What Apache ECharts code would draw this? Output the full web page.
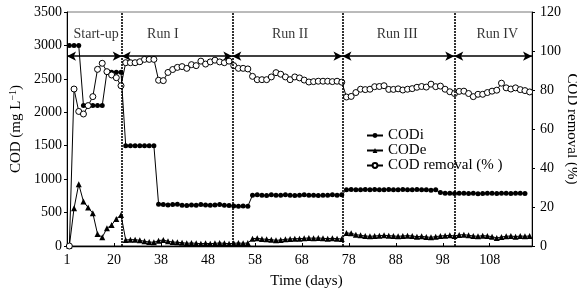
<!DOCTYPE html>
<html lang="en">
<head>
    <meta charset="UTF-8">
    <title>COD</title>
    <style>
        body { margin: 0; background: #fff; }
        #chart { width: 577px; height: 292px; }
    </style>
</head>
<body>
<div id="chart"></div>
<script src="https://cdn.jsdelivr.net/npm/echarts@6/dist/echarts.min.js"></script>
<script>
    // tick labels under the x axis (one every 10 samples)
    var dayTicks = [1, 20, 38, 48, 58, 68, 78, 88, 98, 108];

    // influent COD (mg/L), one value per sample
    var codIn = [
        3000, 3000, 3000, 2100, 2100, 2100, 2100, 2100, 2600, 2600, 2600, 2600,
        1500, 1500, 1500, 1500, 1500, 1500, 1500,
        625, 620, 615, 620, 625, 610, 605, 615, 610, 620, 615, 610, 615, 620, 610, 605, 600, 595, 600, 595,
        760, 765, 760, 755, 765, 760, 760, 765, 760, 755, 760, 765, 760, 760, 755, 760, 760, 765, 760, 765,
        840, 845, 840, 840, 845, 840, 845, 840, 840, 845, 840, 840, 845, 840, 840, 845, 840, 840, 835, 840,
        800, 790, 790, 785, 790, 790, 785, 790, 780, 785, 790, 790, 785, 790, 790, 785, 790, 790, 785
    ];

    // effluent COD (mg/L)
    var codOut = [
        0, 565, 925, 665, 575, 490, 180, 130, 265, 315, 405, 465,
        90, 95, 95, 85, 70, 60, 55,
        80, 90, 70, 60, 55, 50, 40, 45, 40, 35, 40, 35, 40, 45, 40, 35, 40, 45, 40, 45,
        110, 115, 105, 100, 95, 85, 90, 100, 105, 110, 110, 115, 120, 115, 120, 115, 110, 115, 110, 105,
        195, 190, 170, 160, 150, 145, 150, 155, 160, 155, 150, 145, 150, 155, 150, 140, 145, 135, 130, 140,
        150, 155, 160, 150, 165, 170, 160, 150, 145, 155, 150, 140, 120, 135, 145, 150, 140, 150, 145, 150
    ];

    // COD removal (%)
    var codRemoval = [
        0, 80.5, 69, 67.7, 72, 76.6, 90.6, 93.7, 89.4, 87.7, 86.3, 82.2,
        94, 94, 94, 94.5, 95.7, 95.7, 95.7,
        85, 84.8, 89, 90.5, 91.6, 92, 91.1, 93, 92.5, 94.8, 93.3, 94.4, 95.3, 94.4, 94, 94.8, 92.5, 91.1, 91.1, 90.8,
        87, 85.3, 85.3, 85.3, 86.7, 88.9, 88.1, 86.7, 85.3, 86.7, 86.2, 85.1, 84.1, 84.3, 84.5, 84.5, 84.5, 84.3, 84.5, 84,
        76.4, 76.7, 78.7, 80.4, 80.2, 80.4, 81.7, 81.8, 82.2, 80.3, 80.3, 80.6, 80, 80.4, 80.7, 81.4, 81.8, 81.5, 83, 81.7,
        82, 80.4, 79.1, 78.2, 79.3, 79.4, 78.2, 76.6, 77.8, 77.8, 78.7, 79.4, 79.9, 83.5, 81.1, 80.5, 81.1, 80.2, 79.7, 79
    ];

    // run boundaries and labels (in sample units along the x axis)
    var runBounds = [0, 11.65, 35.2, 58.65, 82.45, 99];
    var runNames = ['Start-up', 'Run I', 'Run II', 'Run III', 'Run IV'];
    var runLabelX = [6.2, 20.4, 47.5, 70.3, 91.6];
    var arrowLevel = 2840;
    var runLabelLevel = 3170;

    function toPoints(arr) {
        return arr.map(function (v, i) { return [i + 0.5, v]; });
    }

    var font = 'Liberation Serif';

    var vLines = [];
    for (var i = 1; i < runBounds.length - 1; i++) {
        vLines.push({ xAxis: runBounds[i] });
    }
    var arrows = [];
    for (var j = 0; j < runBounds.length - 1; j++) {
        arrows.push([{ coord: [runBounds[j], arrowLevel] }, { coord: [runBounds[j + 1], arrowLevel] }]);
    }
    var labelData = runNames.map(function (n, k) {
        return { name: n, value: [runLabelX[k], runLabelLevel] };
    });

    var myChart = echarts.init(document.getElementById('chart'));
    var option = {
        animation: false,
        textStyle: { fontFamily: font, color: '#000' },
        grid: {
            left: 67, right: 45, top: 12, bottom: 46,
            outerBoundsMode: 'none', containLabel: false,
            show: true, borderColor: '#777', borderWidth: 1
        },
        legend: {
            data: ['CODi', 'CODe', 'COD removal (%)'],
            orient: 'vertical',
            left: 361, top: 123,
            itemWidth: 16, itemHeight: 6, itemGap: 0,
            formatter: function (n) { return n === 'COD removal (%)' ? 'COD removal (% )' : n; },
            textStyle: { fontFamily: font, fontSize: 15, color: '#000', padding: [0, 0, 0, 0], lineHeight: 13 }
        },
        xAxis: {
            type: 'value', min: 0, max: 99, interval: 10,
            name: 'Time (days)', nameLocation: 'middle', nameGap: 28,
            nameTextStyle: { fontFamily: font, fontSize: 15, color: '#000', padding: [0, 0, 0, 14] },
            axisLine: { lineStyle: { color: '#000', width: 1.3 } },
            axisTick: { inside: true, length: 3, lineStyle: { color: '#000' } },
            axisLabel: {
                fontFamily: font, fontSize: 14, color: '#000', margin: 7,
                formatter: function (v) {
                    var k = v / 10;
                    return (k === Math.floor(k) && dayTicks[k] !== undefined) ? String(dayTicks[k]) : '';
                }
            },
            splitLine: { show: false }
        },
        yAxis: [{
            type: 'value', min: 0, max: 3500, interval: 500,
            name: 'COD (mg L{sup|−1})', nameLocation: 'middle', nameGap: 43, nameRotate: 90,
            nameTextStyle: {
                fontFamily: font, fontSize: 15, color: '#000',
                rich: { sup: { fontFamily: font, fontSize: 10, verticalAlign: 'top', color: '#000' } }
            },
            axisLine: { show: true, lineStyle: { color: '#000' } },
            axisTick: { show: true, length: 3, lineStyle: { color: '#000' } },
            axisLabel: { fontFamily: font, fontSize: 14, color: '#000', margin: 5, formatter: function (v) { return String(v); } },
            splitLine: { show: false }
        }, {
            type: 'value', min: 0, max: 120, interval: 20, position: 'right',
            name: 'COD removal (%)', nameLocation: 'middle', nameGap: 32, nameRotate: -90,
            nameMoveOverlap: false,
            nameTextStyle: { fontFamily: font, fontSize: 15, color: '#000' },
            axisLine: { show: true, lineStyle: { color: '#000' } },
            axisTick: { show: true, length: 3, lineStyle: { color: '#000' } },
            axisLabel: { fontFamily: font, fontSize: 14, color: '#000', margin: 8 },
            splitLine: { show: false }
        }],
        series: [{
            name: 'CODi', type: 'line', yAxisIndex: 0,
            data: toPoints(codIn),
            symbol: 'circle', symbolSize: 5,
            itemStyle: { color: '#000' },
            lineStyle: { color: '#000', width: 1 },
            markLine: {
                silent: true, symbol: 'none',
                label: { show: false },
                lineStyle: { color: '#000', width: 1.6, type: [2, 1] },
                data: vLines
            }
        }, {
            name: 'CODe', type: 'line', yAxisIndex: 0,
            data: toPoints(codOut),
            symbol: 'triangle', symbolSize: 6,
            itemStyle: { color: '#000' },
            lineStyle: { color: '#000', width: 1 }
        }, {
            name: 'COD removal (%)', type: 'line', yAxisIndex: 1,
            data: toPoints(codRemoval),
            symbol: 'circle', symbolSize: 6,
            itemStyle: { color: '#fff', borderColor: '#000', borderWidth: 1 },
            lineStyle: { color: '#000', width: 1 }
        }, {
            name: 'runs', type: 'scatter', yAxisIndex: 0,
            data: labelData,
            symbolSize: 0, silent: true,
            label: {
                show: true, position: 'inside', formatter: '{b}',
                fontFamily: font, fontSize: 14, color: '#000'
            },
            markLine: {
                silent: true, symbol: ['arrow', 'arrow'], symbolSize: [7, 9],
                label: { show: false },
                lineStyle: { color: '#000', width: 1.5, type: 'solid' },
                itemStyle: { color: '#000' },
                data: arrows
            }
        }]
    };
    myChart.setOption(option);
</script>
</body>
</html>
